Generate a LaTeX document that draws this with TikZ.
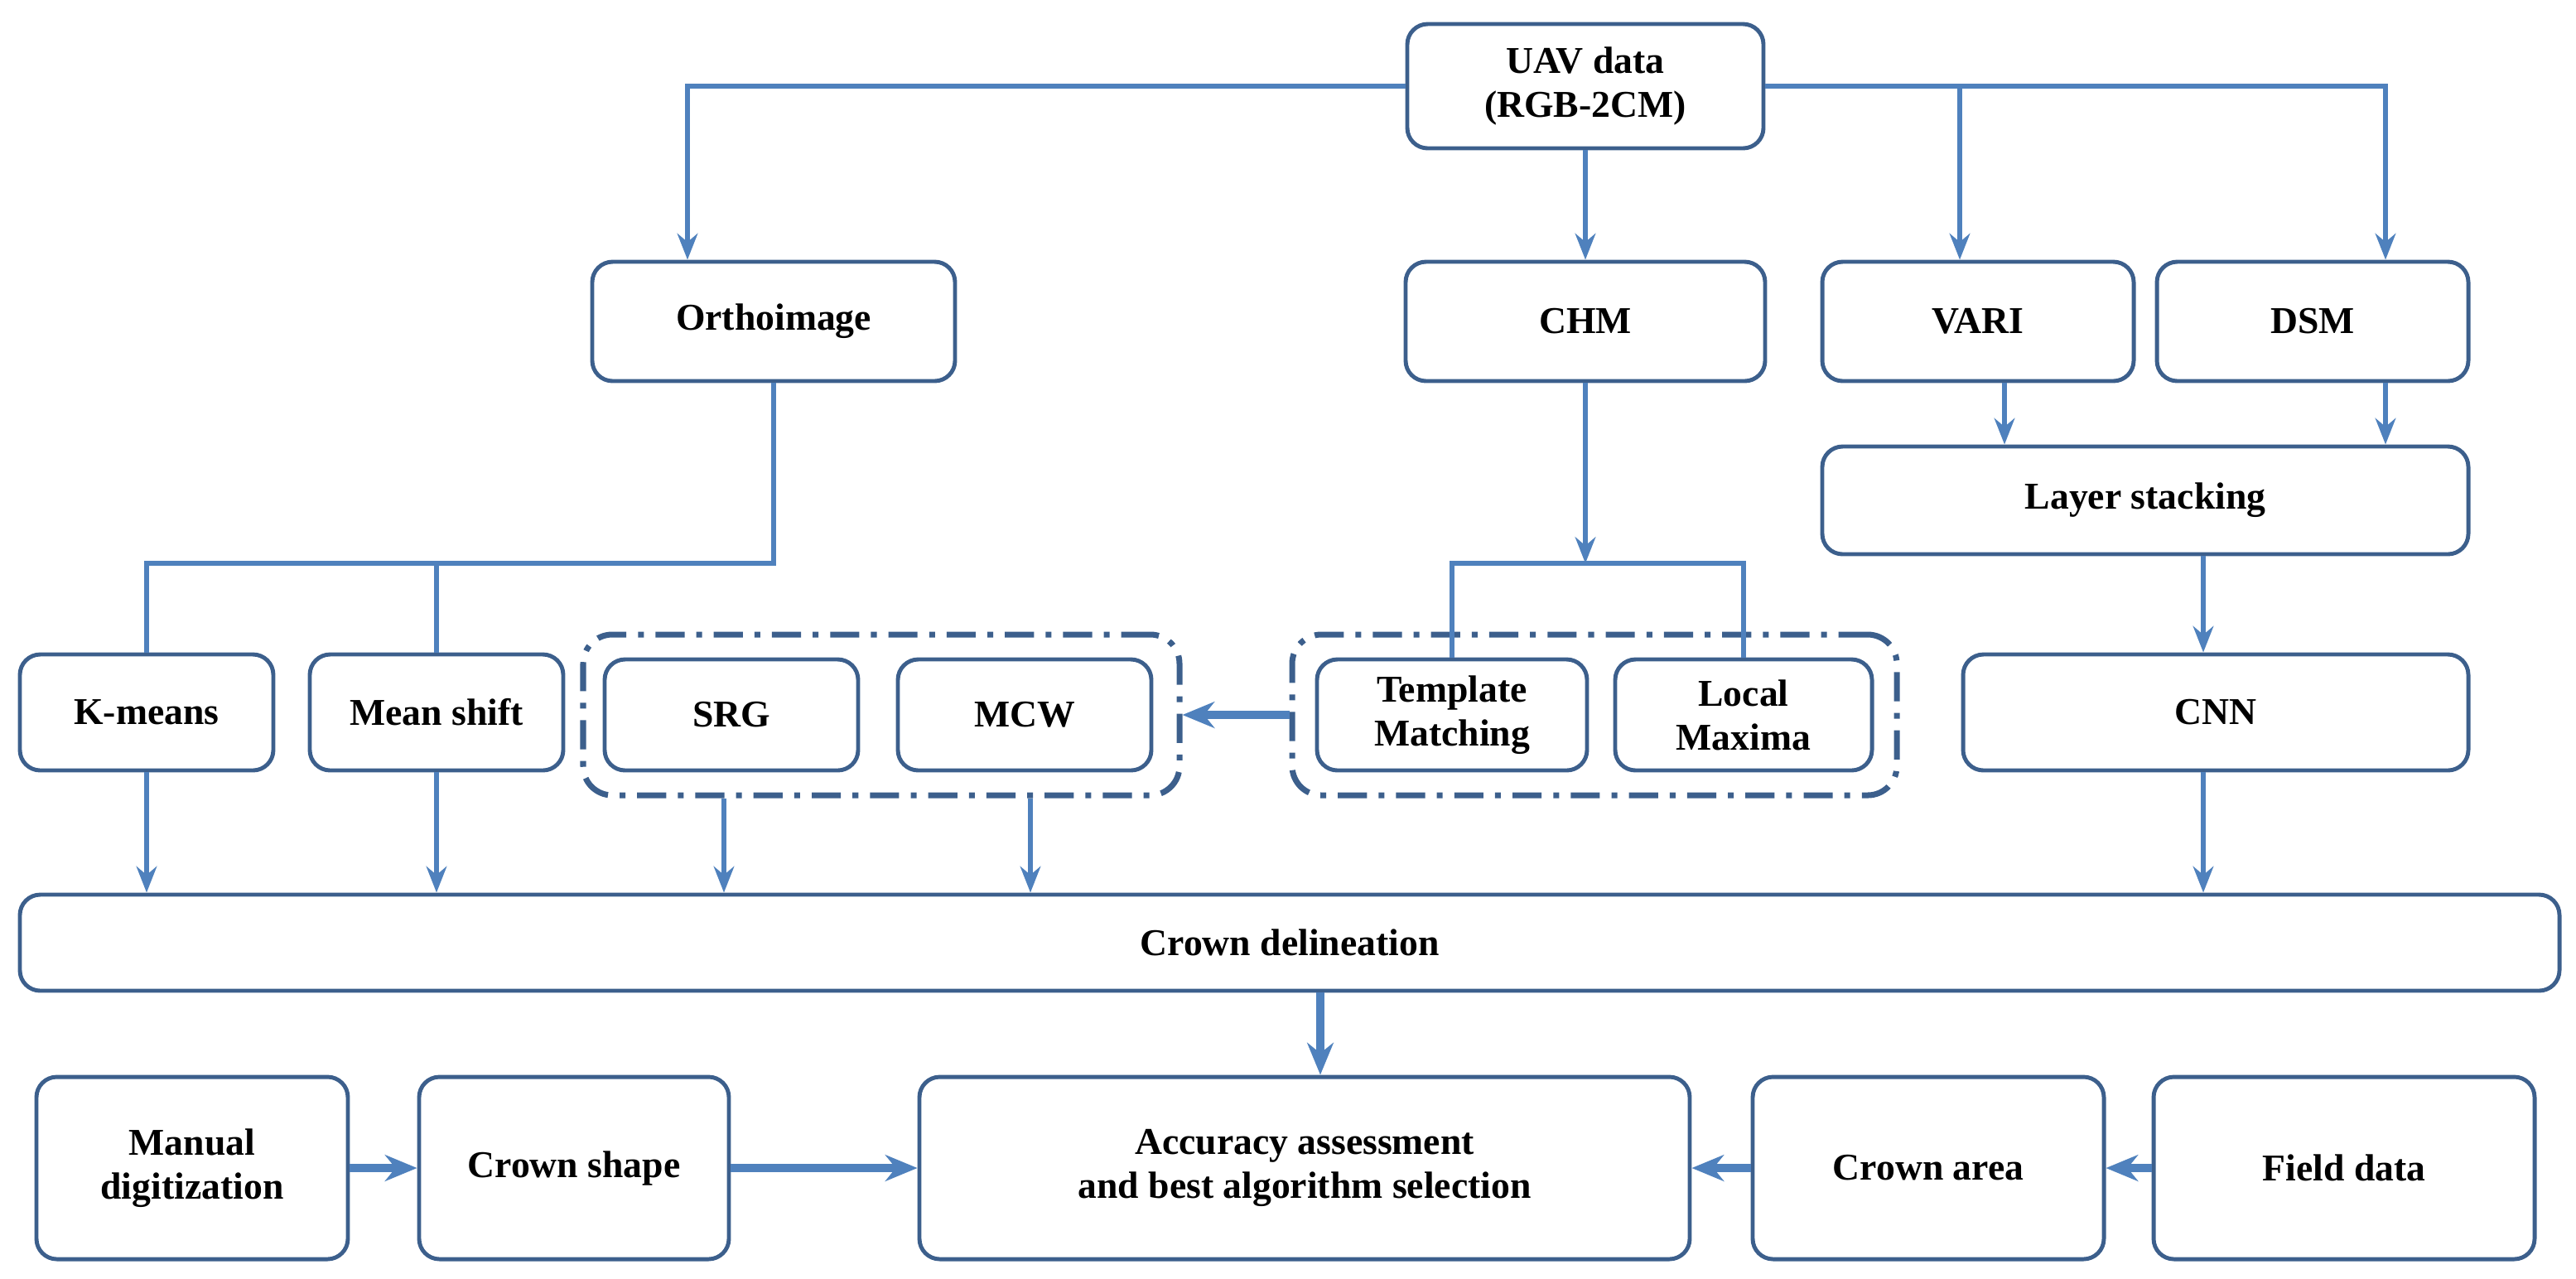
\documentclass[tikz,border=0pt]{standalone}
\usepackage{fontspec}
\setmainfont{Liberation Serif}
\usetikzlibrary{arrows.meta}
\definecolor{lineblue}{RGB}{79,129,189}
\definecolor{boxblue}{RGB}{60,95,140}
\tikzset{
  box/.style={draw=boxblue, line width=1.4pt, rounded corners=7pt, align=center,
    font=\fontsize{13}{15}\selectfont\bfseries, minimum height=1.44cm},
  grp/.style={draw=boxblue, line width=2pt, rounded corners=10pt,
    dash pattern=on 10pt off 4pt on 2pt off 4pt},
  link/.style={draw=lineblue, line width=1.6pt},
  arr/.style={link, -{Stealth[length=9pt,width=7pt]}},
  bigarr/.style={draw=lineblue, line width=2.6pt, -{Stealth[length=11pt,width=9pt]}}
}
\begin{document}
\begin{tikzpicture}
  \useasboundingbox (0,0) rectangle (31.1,-15.43);

  % Top row
  \node [box, minimum width=4.3cm, minimum height=1.5cm] (uav) at (19.14,-1.04) {UAV data\\(RGB-2CM)};
  \node [box, minimum width=4.38cm] (ortho) at (9.34,-3.88) {Orthoimage};
  \node [box, minimum width=4.34cm] (chm) at (19.14,-3.88) {CHM};
  \node [box, minimum width=3.76cm] (vari) at (23.88,-3.88) {VARI};
  \node [box, minimum width=3.76cm] (dsm) at (27.92,-3.88) {DSM};
  \node [box, minimum width=7.8cm, minimum height=1.3cm] (stack) at (25.9,-6.04) {Layer stacking};

  % Algorithms
  \node [box, minimum width=3.06cm, minimum height=1.4cm] (kmeans) at (1.77,-8.6) {K-means};
  \node [box, minimum width=3.06cm, minimum height=1.4cm] (mshift) at (5.27,-8.6) {Mean shift};
  \node [box, minimum width=3.06cm, minimum height=1.34cm] (srg) at (8.83,-8.63) {SRG};
  \node [box, minimum width=3.06cm, minimum height=1.34cm] (mcw) at (12.37,-8.63) {MCW};
  \node [grp, minimum width=7.2cm, minimum height=1.94cm] (segs) at (10.64,-8.63) {};
  \node [box, minimum width=3.26cm, minimum height=1.34cm] (tm) at (17.53,-8.63) {Template\\Matching};
  \node [box, minimum width=3.1cm, minimum height=1.34cm] (lm) at (21.05,-8.63) {Local\\Maxima};
  \node [grp, minimum width=7.3cm, minimum height=1.94cm] (seeds) at (19.25,-8.63) {};
  \node [box, minimum width=6.1cm, minimum height=1.4cm] (cnn) at (26.75,-8.6) {CNN};

  % Delineation and assessment
  \node [box, minimum width=30.66cm, minimum height=1.16cm] (crown) at (15.57,-11.38) {Crown delineation};
  \node [box, minimum width=3.76cm, minimum height=2.2cm] (manual) at (2.32,-14.1) {Manual\\digitization};
  \node [box, minimum width=3.74cm, minimum height=2.2cm] (shape) at (6.93,-14.1) {Crown shape};
  \node [box, minimum width=9.3cm, minimum height=2.2cm] (acc) at (15.75,-14.1) {Accuracy assessment\\and best algorithm selection};
  \node [box, minimum width=4.24cm, minimum height=2.2cm] (area) at (23.28,-14.1) {Crown area};
  \node [box, minimum width=4.6cm, minimum height=2.2cm] (field) at (28.3,-14.1) {Field data};

  % From UAV data
  \draw [arr] (uav.west) -| ([xshift=-1.04cm]ortho.north);
  \draw [arr] (uav.east) -| ([xshift=.88cm]dsm.north);
  \coordinate (vtop) at ([xshift=-.22cm]vari.north |- uav.east);
  \draw [arr] (vtop) -- ([xshift=-.22cm]vari.north);
  \draw [arr] (uav.south) -- (chm.north);

  % Orthoimage branches
  \coordinate (obus) at (ortho.south |- 0,-6.8);
  \draw [link] (ortho.south) -- (obus) -- (kmeans.north |- obus) -- (kmeans.north);
  \draw [link] (mshift.north |- obus) -- (mshift.north);

  % CHM branches
  \coordinate (cbus) at (chm.south |- 0,-6.8);
  \draw [arr] (chm.south) -- (cbus);
  \draw [link] (tm.north) -- (tm.north |- cbus) -- (lm.north |- cbus) -- (lm.north);

  % Stacking
  \draw [arr] ([xshift=.32cm]vari.south) -- ([xshift=.32cm]vari.south |- stack.north);
  \draw [arr] ([xshift=.88cm]dsm.south) -- ([xshift=.88cm]dsm.south |- stack.north);
  \draw [arr] ([xshift=.7cm]stack.south) -- ([xshift=.7cm]stack.south |- cnn.north);
  \draw [bigarr] (seeds.west) -- (segs.east);

  % Into delineation
  \draw [arr] (kmeans.south) -- (kmeans.south |- crown.north);
  \draw [arr] (mshift.south) -- (mshift.south |- crown.north);
  \draw [arr] ([xshift=-1.9cm]segs.south) -- ([xshift=-1.9cm]segs.south |- crown.north);
  \draw [arr] ([xshift=1.8cm]segs.south) -- ([xshift=1.8cm]segs.south |- crown.north);
  \draw [arr] ([xshift=-.15cm]cnn.south) -- ([xshift=-.15cm]cnn.south |- crown.north);
  \draw [bigarr] ([xshift=.19cm]acc.north |- crown.south) -- ([xshift=.19cm]acc.north);

  % Bottom row
  \draw [bigarr] (manual) -- (shape);
  \draw [bigarr] (shape) -- (acc);
  \draw [bigarr] (area) -- (acc);
  \draw [bigarr] (field) -- (area);
\end{tikzpicture}
\end{document}
